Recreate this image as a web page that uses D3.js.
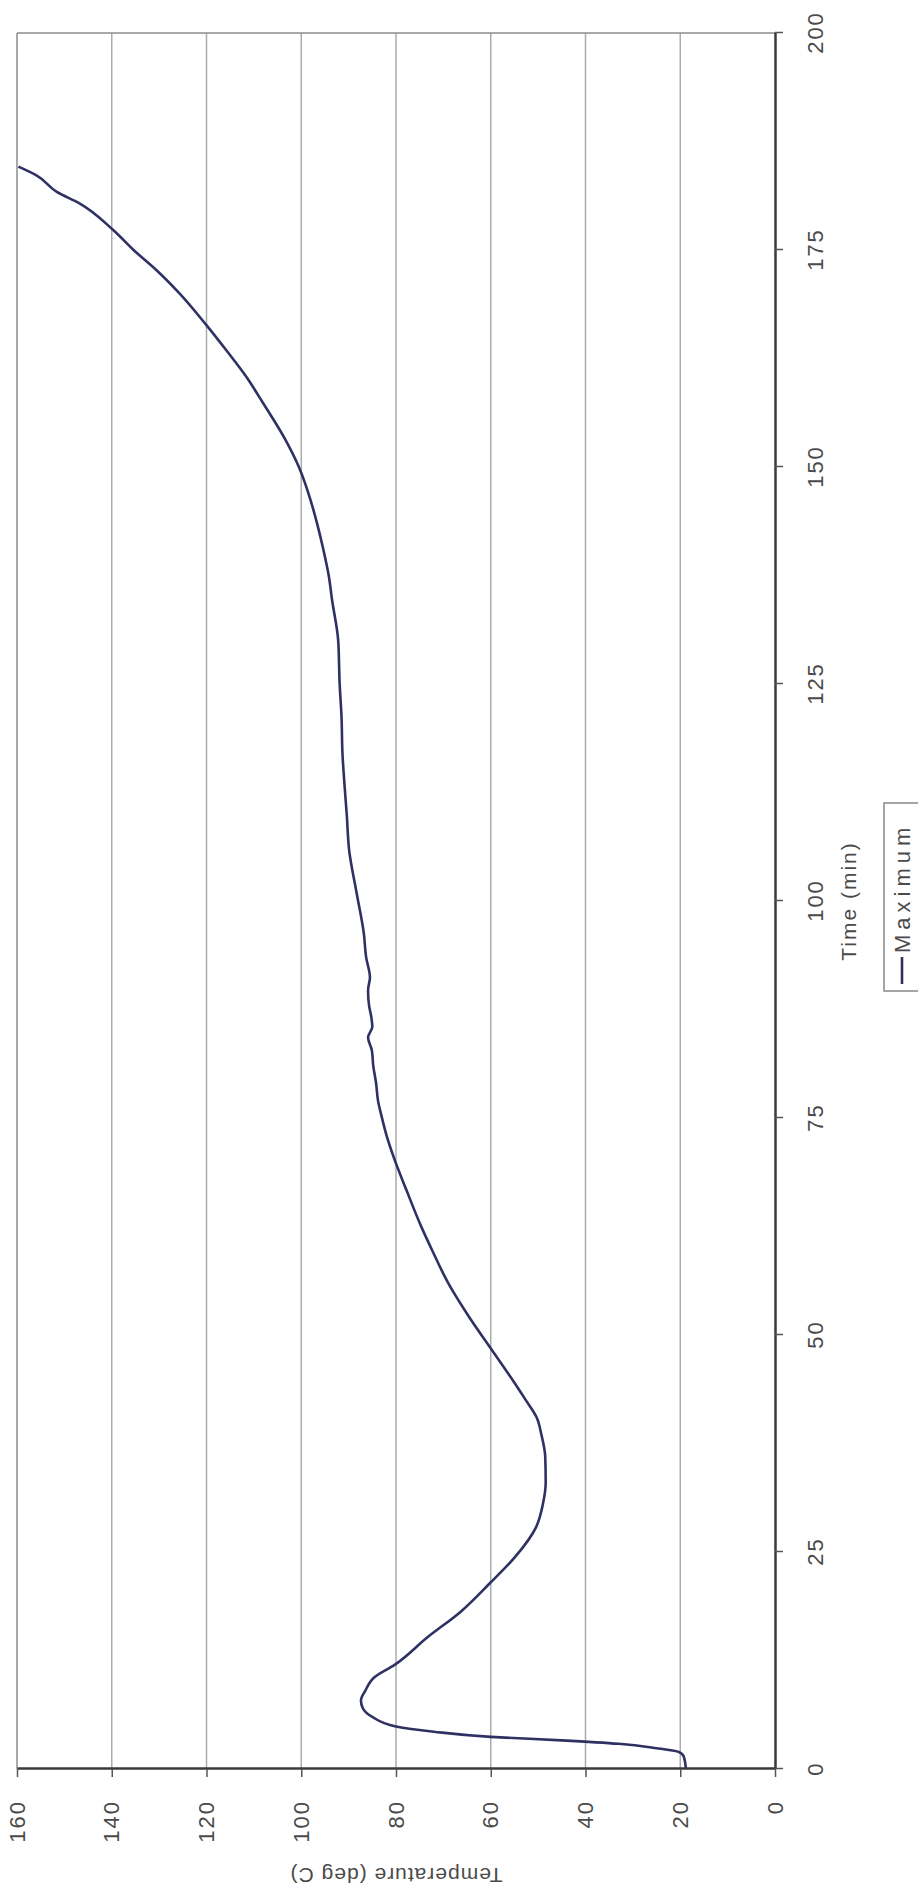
<!DOCTYPE html>
<html>
<head>
<meta charset="utf-8">
<script src="https://cdn.jsdelivr.net/npm/d3@7"></script>
<style>
body { margin: 0; background: #fff; }
</style>
</head>
<body>
<script>
const width = 918;
const height = 1897;

// the page is a scanned chart lying on its side, so we draw it upright
// in a group and turn the group -90deg
const timeMin = [0, 1.5, 2.0, 2.4, 2.9, 3.3, 3.7, 4.3, 4.9, 6.0, 7.0, 7.9, 9.0, 10.6, 12.0,
	15.2, 18.1, 21.4, 24.4, 27.9, 30.5, 33.0, 36.0, 38.5, 40.5, 42.5, 44.5, 48.3, 52.1,
	56.0, 59.8, 62.4, 66.7, 70.2, 73.0, 75.1, 77.0, 79.0, 81.0, 82.8, 84.3, 85.5, 86.6,
	88.0, 89.7, 91.2, 93.5, 96.3, 100.9, 105.9, 110.0, 113.6, 117.0, 121.2, 125.1, 130.0,
	134.7, 137.5, 140.4, 144.2, 147.0, 150.0, 153.1, 157.4, 160.4, 163.5, 166.4, 170.0,
	172.7, 175.0, 177.3, 180.4, 181.7, 183.6, 184.6];
const tempMax = [18.8, 19.3, 20.5, 25, 33, 45, 60, 72, 80, 85, 87, 87.4, 86.5, 84.5, 80.3,
	73.3, 66.4, 60.2, 54.9, 50.4, 49.0, 48.4, 48.5, 49.3, 50.3, 52.6, 55.0, 59.8, 64.6,
	69.0, 72.4, 74.6, 77.8, 80.3, 82.0, 83.0, 83.8, 84.2, 84.8, 85.1, 85.9, 85.0, 85.2,
	85.7, 85.9, 85.5, 86.3, 86.8, 88.3, 89.9, 90.4, 90.9, 91.3, 91.5, 91.9, 92.2,
	93.5, 94.2, 95.3, 97.0, 98.5, 100.5, 103.3, 108.1, 111.6, 115.9, 120.1, 125.7,
	130.6, 135.4, 139.7, 146.9, 151.6, 155.9, 159.7];

const timeTicks = [0, 25, 50, 75, 100, 125, 150, 175, 200];
const tempTicks = [0, 20, 40, 60, 80, 100, 120, 140, 160];
const seriesName = "Maximum";
const xTitle = "Time (min)";
const yTitle = "Temperature (deg C)";

const font = "'Liberation Sans', Arial, sans-serif";
const textColor = "#4a4a4a";
const lineColor = "#2f3163";

const svg = d3.select("body")
	.append("svg")
	.attr("width", width)
	.attr("height", height)
	.style("background", "#fff");

const g = svg.append("g")
	.attr("transform", `translate(0,${height}) rotate(-90)`);

const x = d3.scaleLinear().domain([0, 200]).range([128, 1864]);
const y = d3.scaleLinear().domain([0, 160]).range([775, 17]);

// grid
g.append("g")
	.selectAll("line")
	.data(tempTicks.filter(d => d > 0))
	.enter()
	.append("line")
	.attr("x1", x(0))
	.attr("x2", x(200))
	.attr("y1", d => y(d))
	.attr("y2", d => y(d))
	.style("stroke", d => d == 160 ? "#8c8c8c" : "#ababab")
	.style("stroke-width", 1.5);

// right edge of plot
g.append("line")
	.attr("x1", x(200)).attr("x2", x(200))
	.attr("y1", y(0)).attr("y2", y(160))
	.style("stroke", "#8c8c8c")
	.style("stroke-width", 1.5);

const yAxis = g.append("g")
	.attr("transform", `translate(${x(0)},0)`)
	.call(d3.axisLeft(y).tickValues(tempTicks).tickSize(8).tickPadding(23).tickSizeOuter(0));

const xAxis = g.append("g")
	.attr("transform", `translate(0,${y(0)})`)
	.call(d3.axisBottom(x).tickValues(timeTicks).tickSize(8).tickPadding(24).tickSizeOuter(0));

[xAxis, yAxis].forEach(a => {
	a.select(".domain").style("stroke", "#3a3a3a").style("stroke-width", 2.5);
	a.selectAll(".tick line").style("stroke", "#555").style("stroke-width", 1.5);
	a.selectAll("text")
		.style("font-family", font)
		.style("font-size", "22px")
		.style("letter-spacing", "2px")
		.style("fill", textColor);
});

// titles
g.append("text")
	.attr("x", (x(0) + x(200)) / 2)
	.attr("y", 849)
	.attr("dy", "0.35em")
	.attr("text-anchor", "middle")
	.style("font-family", font)
	.style("font-size", "21px")
	.style("letter-spacing", "2px")
	.style("fill", textColor)
	.text(xTitle);

g.append("text")
	.attr("transform", `translate(22,${(y(0) + y(160)) / 2}) rotate(-90)`)
	.attr("dy", "0.35em")
	.attr("text-anchor", "middle")
	.style("font-family", font)
	.style("font-size", "21px")
	.style("letter-spacing", "1px")
	.style("fill", textColor)
	.text(yTitle);

// the series
const line = d3.line()
	.x(d => x(d[0]))
	.y(d => y(d[1]))
	.curve(d3.curveMonotoneX);

g.append("path")
	.datum(d3.zip(timeMin, tempMax))
	.attr("d", line)
	.style("fill", "none")
	.style("stroke", lineColor)
	.style("stroke-width", 2.6);

// legend, sitting on the page edge like the scan
const legend = g.append("g").attr("transform", `translate(906,884)`);
legend.append("rect")
	.attr("x", 0).attr("y", 0)
	.attr("width", 188).attr("height", 44)
	.style("fill", "#fff")
	.style("stroke", "#888")
	.style("stroke-width", 1.5);
legend.append("line")
	.attr("x1", 7).attr("x2", 34)
	.attr("y1", 18).attr("y2", 18)
	.style("stroke", lineColor)
	.style("stroke-width", 2.6);
legend.append("text")
	.attr("x", 38)
	.attr("y", 18)
	.attr("dy", "0.35em")
	.style("font-family", font)
	.style("font-size", "22px")
	.style("letter-spacing", "5px")
	.style("fill", textColor)
	.text(seriesName);
</script>
</body>
</html>
